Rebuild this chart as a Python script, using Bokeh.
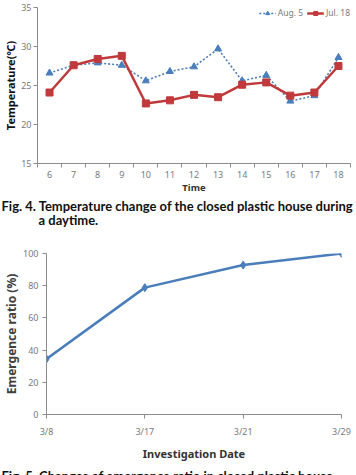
from bokeh.plotting import figure
from bokeh.models import FixedTicker, Legend, LegendItem, Range1d
from bokeh.core.properties import value
from bokeh.layouts import column
from bokeh.embed import file_html
from bokeh.resources import INLINE

# ---- data ----
hours = [6, 7, 8, 9, 10, 11, 12, 13, 14, 15, 16, 17, 18]
aug5 = [26.6, 27.6, 27.9, 27.6, 25.6, 26.8, 27.4, 29.7, 25.6, 26.3, 23.0, 23.7, 28.6]
jul18 = [24.1, 27.6, 28.4, 28.8, 22.7, 23.1, 23.8, 23.5, 25.1, 25.4, 23.7, 24.1, 27.5]
temp_ticks = [15, 20, 25, 30, 35]

dates = ["3/8", "3/17", "3/21", "3/29"]
emergence = [34.5, 78.8, 92.8, 100.0]
ratio_ticks = [0, 20, 40, 60, 80, 100]

caption4 = ["Fig. 4. Temperature change of the closed plastic house during", "a daytime."]
caption5 = ["Fig. 5. Changes of emergence ratio in closed plastic house"]

BLUE = "#4a7ebb"
RED = "#c0393b"
AXIS = "#8c8c8c"
TICKTXT = "#7a7a7a"
CAP_FONT = "Lato"
TXT_FONT = "Noto Sans"
W = 356


def style_axes(p):
    p.outline_line_color = None
    p.xgrid.visible = False
    p.ygrid.visible = False
    for ax in (p.xaxis[0], p.yaxis[0]):
        ax.axis_line_color = AXIS
        ax.major_tick_line_color = AXIS
        ax.minor_tick_line_color = AXIS
        ax.major_label_text_color = TICKTXT
        ax.major_label_text_font = TXT_FONT
        ax.major_label_text_font_size = "9px"
        ax.axis_label_text_font = TXT_FONT
        ax.axis_label_text_font_style = "bold"
        ax.major_tick_in = 0


def caption_fig(height, lines, xs, ys, size):
    c = figure(width=W, height=height, output_backend="svg", toolbar_location=None,
               x_axis_location=None, y_axis_location=None,
               x_range=Range1d(0, W), y_range=Range1d(0, height),
               min_border=0, min_border_left=0, min_border_right=0,
               min_border_top=0, min_border_bottom=0, frame_align=False)
    c.outline_line_color = None
    c.grid.visible = False
    c.text(x=xs, y=ys, text=lines, text_font=value(CAP_FONT), text_font_style="bold",
           text_font_size=size, text_color="#111111", text_baseline="middle",
           text_align="left")
    return c


# ---- top chart ----
p1 = figure(width=W, height=196, x_range=Range1d(5.5, 18.5), y_range=Range1d(15, 35),
            output_backend="svg", toolbar_location=None, frame_align=False,
            min_border_left=33, min_border_right=6, min_border_top=7, min_border_bottom=33)
style_axes(p1)
p1.xaxis.ticker = FixedTicker(ticks=hours, minor_ticks=[h - 0.5 for h in hours] + [hours[-1] + 0.5])
p1.xaxis.major_tick_out = 0
p1.xaxis.minor_tick_out = 4
p1.xaxis.minor_tick_in = 0
p1.xaxis.major_label_standoff = 3
p1.xaxis.axis_label = "Time"
p1.xaxis.axis_label_text_font_size = "9.5px"
p1.xaxis.axis_label_standoff = 0
p1.xaxis.axis_label_text_color = "#333333"
p1.yaxis.ticker = FixedTicker(ticks=temp_ticks, minor_ticks=[])
p1.yaxis.major_tick_out = 4
p1.yaxis.major_label_standoff = 2
p1.yaxis.axis_label = "Temperature(℃)"
p1.yaxis.axis_label_text_font_size = "11px"
p1.yaxis.axis_label_standoff = 0
p1.yaxis.axis_label_text_color = "#111111"

l_aug = p1.line(hours, aug5, line_color=BLUE, line_width=1.6, line_dash="2 2")
m_aug = p1.scatter(hours, aug5, marker="triangle", size=7, fill_color=BLUE, line_color=BLUE)
l_jul = p1.line(hours, jul18, line_color=RED, line_width=2.5)
m_jul = p1.scatter(hours, jul18, marker="square", size=7, fill_color=RED, line_color=RED)

legend = Legend(items=[LegendItem(label="Aug. 5", renderers=[l_aug, m_aug]),
                       LegendItem(label="Jul. 18", renderers=[l_jul, m_jul])],
                location="top_right", orientation="horizontal",
                background_fill_alpha=0, border_line_alpha=0,
                label_text_font=TXT_FONT, label_text_font_size="8.5px",
                label_text_color="#7a7a7a", glyph_width=17, glyph_height=10,
                label_standoff=2, spacing=4, padding=0, margin=0,
                label_height=10)
p1.add_layout(legend)

cap1 = caption_fig(32, caption4, [1, 38], [23, 9], "13px")

# ---- bottom chart ----
xi = list(range(len(dates)))
p2 = figure(width=W, height=235, x_range=Range1d(0, len(dates) - 1), y_range=Range1d(0, 100),
            output_backend="svg", toolbar_location=None, frame_align=False,
            min_border_left=43, min_border_right=15, min_border_top=25, min_border_bottom=43)
style_axes(p2)
p2.xaxis.ticker = FixedTicker(ticks=xi, minor_ticks=[])
p2.xaxis.major_label_overrides = {i: d for i, d in zip(xi, dates)}
p2.xaxis.major_tick_out = 4
p2.xaxis.major_label_standoff = 6
p2.xaxis.axis_label = "Investigation Date"
p2.xaxis.axis_label_text_font_size = "11px"
p2.xaxis.axis_label_standoff = 5
p2.xaxis.axis_label_text_color = "#333333"
p2.yaxis.ticker = FixedTicker(ticks=ratio_ticks, minor_ticks=[])
p2.yaxis.major_tick_out = 4
p2.yaxis.major_label_standoff = 4
p2.yaxis.axis_label = "Emergence ratio (%)"
p2.yaxis.axis_label_text_font_size = "12px"
p2.yaxis.axis_label_standoff = 0
p2.yaxis.axis_label_text_color = "#404040"

p2.line(xi, emergence, line_color=BLUE, line_width=2.5)
p2.scatter(xi, emergence, marker="diamond", size=8, fill_color=BLUE, line_color=BLUE)

cap2 = caption_fig(12, caption5, [1], [0], "13px")

layout = column(p1, cap1, p2, cap2, spacing=0)
open("out.html", "w").write(file_html(layout, INLINE))
